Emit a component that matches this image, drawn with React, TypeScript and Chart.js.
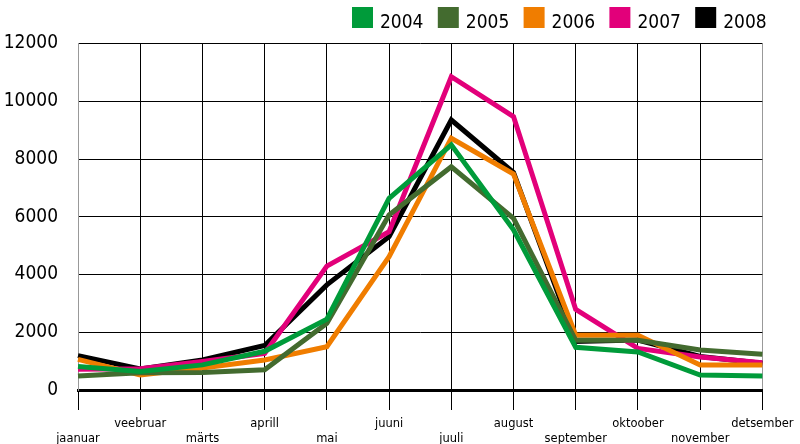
import React, { useEffect, useRef } from "react";
import { Chart, registerables } from "chart.js";

Chart.register(...registerables);

const months = [
  "jaanuar", "veebruar", "märts", "aprill", "mai", "juuni",
  "juuli", "august", "september", "oktoober", "november", "detsember",
];
const years = ["2004", "2005", "2006", "2007", "2008"];
const colors = ["#009B3A", "#436B2F", "#F07D00", "#E2007A", "#000000"];

const v2004 = [810, 640, 870, 1340, 2450, 6640, 8490, 5550, 1480, 1320, 520, 485];
const v2005 = [485, 600, 610, 700, 2310, 6060, 7730, 5945, 1720, 1720, 1385, 1235];
const v2006 = [1060, 520, 760, 1040, 1500, 4620, 8720, 7480, 1900, 1900, 866, 866];
const v2007 = [715, 740, 990, 1270, 4290, 5480, 10850, 9470, 2790, 1440, 1140, 940];
const v2008 = [1190, 727, 1040, 1540, 3640, 5310, 9350, 7530, 1680, 1730, 1160, 924];
const series = [v2004, v2005, v2006, v2007, v2008];

const yMax = 12000;
const yStep = 2000;

const FONT = "'DejaVu Sans Condensed', 'DejaVu Sans', sans-serif";

const legendPlugin = {
  id: "topLegend",
  afterDraw(chart: any) {
    const ctx = chart.ctx;
    const startX = 352;
    const step = 85.8;
    const boxTop = 7;
    const box = 21;
    ctx.save();
    ctx.font = `19px ${FONT}`;
    ctx.textBaseline = "alphabetic";
    ctx.textAlign = "left";
    chart.data.datasets.forEach((ds: any, i: number) => {
      const x = startX + i * step;
      ctx.fillStyle = ds.borderColor;
      ctx.fillRect(x, boxTop, box, box);
      ctx.fillStyle = "#000";
      ctx.fillText(ds.label, x + 28, boxTop + box);
    });
    ctx.restore();
  },
};

export default function App() {
  const ref = useRef<HTMLCanvasElement | null>(null);

  useEffect(() => {
    if (!ref.current) return;
    const chart = new Chart(ref.current, {
      type: "line",
      data: {
        labels: months,
        datasets: years.map((y, i) => ({
          label: y,
          data: series[i],
          borderColor: colors[i],
          backgroundColor: colors[i],
          borderWidth: 5,
          pointRadius: 0,
          tension: 0,
          fill: false,
        })),
      },
      plugins: [legendPlugin],
      options: {
        responsive: false,
        animation: false,
        layout: { padding: { left: 0, right: 37, top: 43.5, bottom: 0 } },
        plugins: {
          tooltip: { enabled: false },
          legend: { display: false },
        },
        scales: {
          x: {
            offset: false,
            grid: {
              color: (c: any) => (c.index === 0 || c.index === months.length - 1 ? "#999" : "#000"),
              lineWidth: 1,
              drawTicks: true,
              tickLength: 20,
              tickColor: "#000",
              tickWidth: 1,
            },
            border: { display: true, color: "#000", width: 3 },
            ticks: {
              autoSkip: false,
              maxRotation: 0,
              padding: 6.5,
              color: "#000",
              font: { family: "'DejaVu Sans', sans-serif", size: 11.5, lineHeight: 1.3 },
              callback: (_v: any, i: number) => (i % 2 === 0 ? ["", months[i]] : [months[i]]),
            },
            afterFit: (s: any) => {
              s.height = 54;
            },
          },
          y: {
            min: 0,
            max: yMax,
            grid: { color: "#000", lineWidth: 1, drawTicks: false },
            border: { display: true, color: "#999", width: 1 },
            ticks: {
              stepSize: yStep,
              padding: 20,
              color: "#000",
              font: { family: FONT, size: 19 },
              callback: (v: any) => String(v),
            },
            afterFit: (s: any) => {
              s.width = 78;
            },
          },
        },
      },
    });
    return () => chart.destroy();
  }, []);

  return (
    <canvas
      ref={ref}
      width={800}
      height={444}
      style={{ position: "fixed", left: 0, top: 0, display: "block", background: "#fff" }}
    />
  );
}
